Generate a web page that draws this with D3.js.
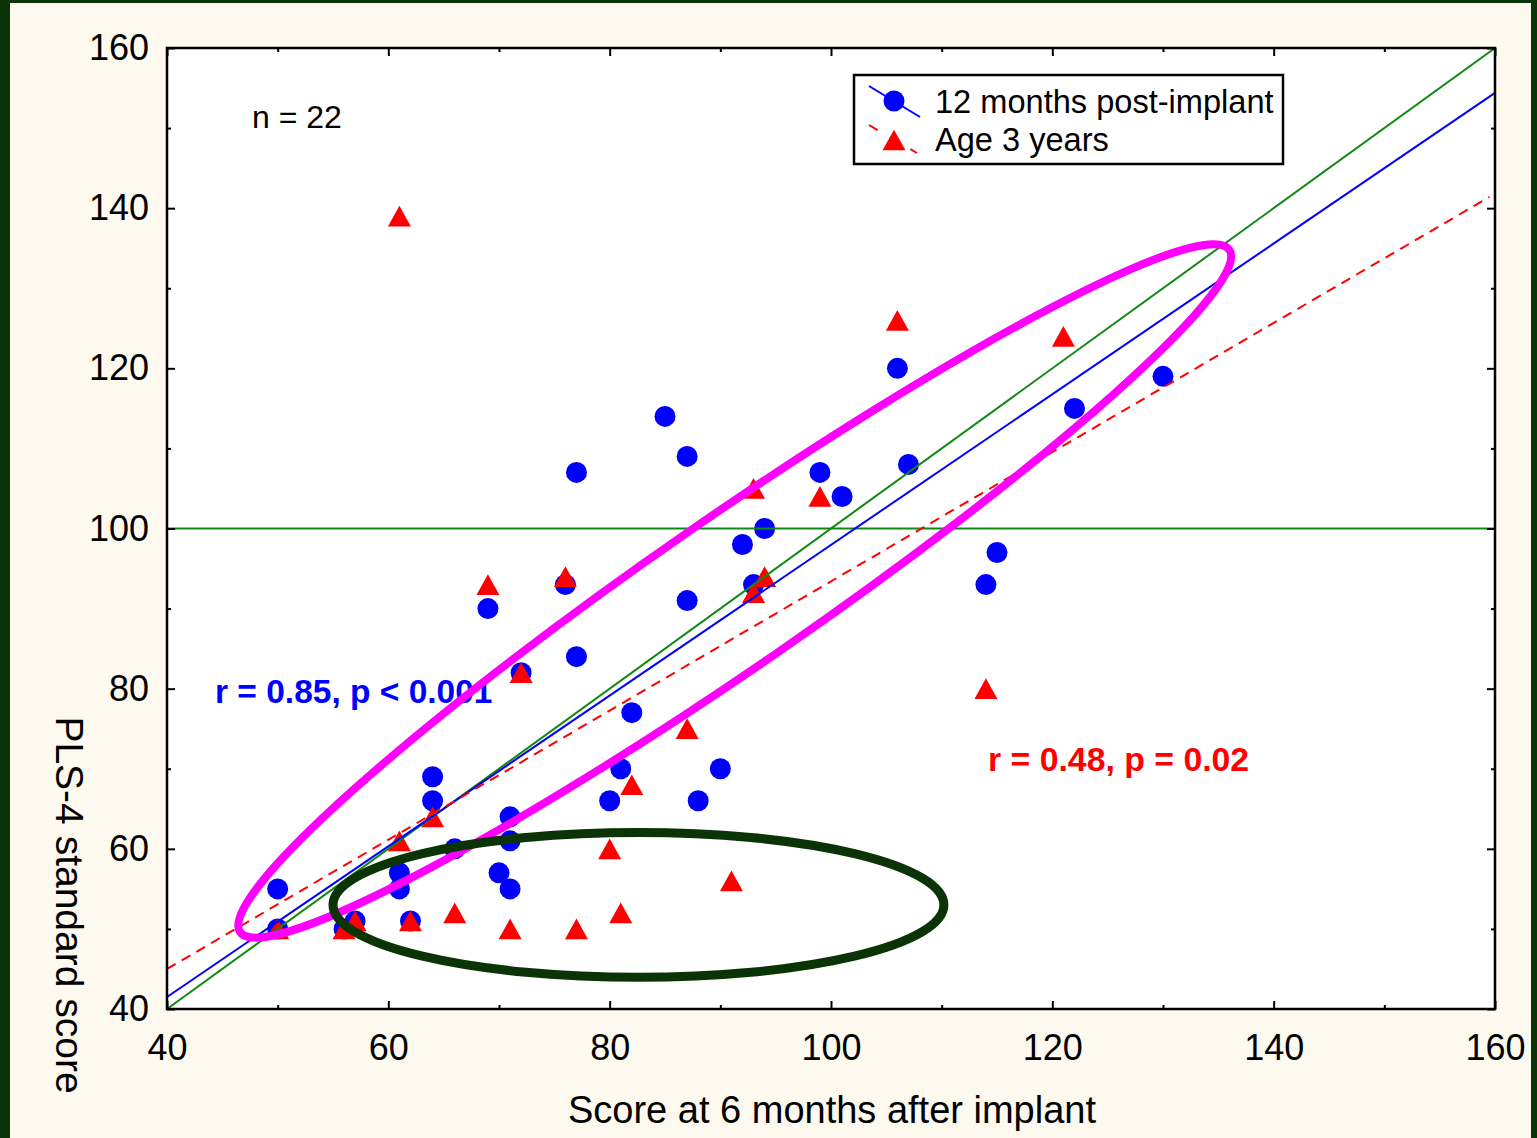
<!DOCTYPE html>
<html>
<head>
<meta charset="utf-8">
<script src="https://cdn.jsdelivr.net/npm/d3@7"></script>
<style>
  body { margin: 0; background: #0c3409; }
  svg { display: block; }
  text { font-family: "Liberation Sans", Arial, sans-serif; }
</style>
</head>
<body>
<svg id="chart" width="1537" height="1138"></svg>
<script>
// scores at 6 months (x) vs PLS-4 at 12 months post-implant (y)
const postImplantX = [50, 50, 56, 57, 61, 61, 62, 64, 64, 66, 69, 70, 71, 71, 71, 72, 76, 77, 77, 80,
  81, 82, 85, 87, 87, 88, 90, 92, 93, 94, 99, 101, 106, 107, 114, 115, 122, 130];
const postImplantY = [55, 50, 50, 51, 57, 55, 51, 69, 66, 60, 90, 57, 64, 61, 55, 82, 93, 107, 84, 66,
  70, 77, 114, 109, 91, 66, 70, 98, 93, 100, 107, 104, 120, 108, 93, 97, 115, 119];

// scores at 6 months (x) vs PLS-4 at age 3 years (y)
const age3X = [50, 56, 57, 61, 61, 62, 64, 66, 69, 71, 72, 76, 77, 80, 81, 82, 87, 91, 93, 93,
  94, 99, 106, 114, 121];
const age3Y = [50, 50, 51, 139, 61, 51, 64, 52, 93, 50, 82, 94, 50, 60, 52, 68, 75, 56, 105, 92,
  94, 104, 126, 80, 124];

// fitted lines: [x, y] end points
const postImplantFit = [[40, 41.5], [160, 154.4]];
const age3Fit = [[40, 45.0], [159.5, 141.4]];
const identityLine = [[40, 40], [160, 160]];
const normLine = [[40, 100], [160, 100]];

const xTicks = [40, 60, 80, 100, 120, 140, 160];
const yTicks = [40, 60, 80, 100, 120, 140, 160];
const minorTicks = [50, 70, 90, 110, 130, 150];

const seriesNames = ['12 months post-implant', 'Age 3 years'];

const svg = d3.select('#chart');
const width = 1537;
const height = 1138;
const margin = { top: 48, left: 167, right: 42, bottom: 129 };

// page: cream panel inside a dark green frame
svg.append('rect').attr('x', 10).attr('y', 3).attr('width', 1521).attr('height', height - 3)
  .attr('fill', '#fdf9ee');

const x = d3.scaleLinear().domain([40, 160]).range([margin.left, width - margin.right]);
const y = d3.scaleLinear().domain([40, 160]).range([height - margin.bottom, margin.top]);

svg.append('rect')
  .attr('x', x(40)).attr('y', y(160))
  .attr('width', x(160) - x(40)).attr('height', y(40) - y(160))
  .attr('fill', '#ffffff');

const line = d3.line().x(d => x(d[0])).y(d => y(d[1]));

// points first, lines drawn on top
const triangle = {
  draw(context, size) {
    const w = Math.sqrt(size);
    const h = w * 0.9;
    context.moveTo(0, -h / 2);
    context.lineTo(w / 2, h / 2);
    context.lineTo(-w / 2, h / 2);
    context.closePath();
  }
};

svg.append('g').selectAll('circle')
  .data(postImplantX.map((v, i) => [v, postImplantY[i]]))
  .enter()
  .append('circle')
  .attr('cx', d => x(d[0]))
  .attr('cy', d => y(d[1]))
  .attr('r', 10.5)
  .attr('fill', '#0000ff');

svg.append('g').selectAll('path')
  .data(age3X.map((v, i) => [v, age3Y[i]]))
  .enter()
  .append('path')
  .attr('transform', d => `translate(${x(d[0])}, ${y(d[1])})`)
  .attr('d', d3.symbol(triangle, 23 * 23))
  .attr('fill', '#ff0000');

svg.append('path').datum(normLine).attr('d', line)
  .attr('fill', 'none').attr('stroke', '#118811').attr('stroke-width', 2);
svg.append('path').datum(identityLine).attr('d', line)
  .attr('fill', 'none').attr('stroke', '#118811').attr('stroke-width', 2);
svg.append('path').datum(postImplantFit).attr('d', line)
  .attr('fill', 'none').attr('stroke', '#0000ff').attr('stroke-width', 2);
svg.append('path').datum(age3Fit).attr('d', line)
  .attr('fill', 'none').attr('stroke', '#ff0000').attr('stroke-width', 2)
  .attr('stroke-dasharray', '10,7');

// axes, ticks pointing inward
const axisFont = '36px';
const bottomAxis = svg.append('g')
  .attr('transform', `translate(0, ${y(40)})`)
  .call(d3.axisBottom(x).tickValues(xTicks).tickSize(-8).tickPadding(25));
svg.append('g')
  .attr('transform', `translate(0, ${y(40)})`)
  .call(d3.axisBottom(x).tickValues(minorTicks).tickSize(-4).tickFormat(''));
const leftAxis = svg.append('g')
  .attr('transform', `translate(${x(40)}, 0)`)
  .call(d3.axisLeft(y).tickValues(yTicks).tickSize(-8).tickPadding(18));
svg.append('g')
  .attr('transform', `translate(${x(40)}, 0)`)
  .call(d3.axisLeft(y).tickValues(minorTicks).tickSize(-4).tickFormat(''));
svg.append('g')
  .attr('transform', `translate(0, ${y(160)})`)
  .call(d3.axisTop(x).tickValues(xTicks).tickSize(-8).tickFormat(''));
svg.append('g')
  .attr('transform', `translate(0, ${y(160)})`)
  .call(d3.axisTop(x).tickValues(minorTicks).tickSize(-4).tickFormat(''));
svg.append('g')
  .attr('transform', `translate(${x(160)}, 0)`)
  .call(d3.axisRight(y).tickValues(yTicks).tickSize(-8).tickFormat(''));
svg.append('g')
  .attr('transform', `translate(${x(160)}, 0)`)
  .call(d3.axisRight(y).tickValues(minorTicks).tickSize(-4).tickFormat(''));

svg.selectAll('.domain').remove();
svg.selectAll('.tick line').attr('stroke', '#000').attr('stroke-width', 2);
bottomAxis.selectAll('text').style('font-size', axisFont).attr('fill', '#000')
  .style('font-family', '"Liberation Sans", Arial, sans-serif');
leftAxis.selectAll('text').style('font-size', axisFont).attr('fill', '#000')
  .style('font-family', '"Liberation Sans", Arial, sans-serif');

svg.append('rect')
  .attr('x', x(40)).attr('y', y(160))
  .attr('width', x(160) - x(40)).attr('height', y(40) - y(160))
  .attr('fill', 'none').attr('stroke', '#000').attr('stroke-width', 2.5);

// axis titles
svg.append('text')
  .attr('x', 832).attr('y', 1123)
  .attr('text-anchor', 'middle')
  .style('font-size', '38px')
  .text('Score at 6 months after implant');

svg.append('text')
  .attr('transform', 'translate(56, 905) rotate(90)')
  .attr('text-anchor', 'middle')
  .style('font-size', '39px')
  .text('PLS-4 standard score');

// annotations
svg.append('text').attr('x', 252).attr('y', 128)
  .style('font-size', '32px').text('n = 22');

svg.append('text').attr('x', 215).attr('y', 703)
  .style('font-size', '33.5px').style('font-weight', 'bold').attr('fill', '#0000ff')
  .text('r = 0.85, p < 0.001');

svg.append('text').attr('x', 988).attr('y', 771)
  .style('font-size', '33.8px').style('font-weight', 'bold').attr('fill', '#ff0000')
  .text('r = 0.48, p = 0.02');

// legend
const legend = svg.append('g').attr('transform', 'translate(854, 75)');
legend.append('rect').attr('width', 429).attr('height', 89)
  .attr('fill', '#fff').attr('stroke', '#000').attr('stroke-width', 2.5);

legend.append('line').attr('x1', 15).attr('y1', 11).attr('x2', 66).attr('y2', 42)
  .attr('stroke', '#0000ff').attr('stroke-width', 2);
legend.append('circle').attr('cx', 40).attr('cy', 26).attr('r', 10.5).attr('fill', '#0000ff');
legend.append('line').attr('x1', 15).attr('y1', 50).attr('x2', 63).attr('y2', 78)
  .attr('stroke', '#ff0000').attr('stroke-width', 2).attr('stroke-dasharray', '10,14');
legend.append('path').attr('transform', 'translate(40, 65)')
  .attr('d', d3.symbol(triangle, 23 * 23)).attr('fill', '#ff0000');

legend.selectAll('text.legend-label')
  .data(seriesNames)
  .enter()
  .append('text')
  .attr('class', 'legend-label')
  .attr('x', 81)
  .attr('y', (d, i) => 38 + i * 38)
  .style('font-size', '32.6px')
  .text(d => d);

// magenta ellipse round the upper group, defined by its two tips (data units)
const tipA = [46.6, 49.6];
const tipB = [136.0, 134.8];
const ax = x(tipA[0]), ay = y(tipA[1]), bx = x(tipB[0]), by = y(tipB[1]);
const angle = Math.atan2(by - ay, bx - ax) * 180 / Math.PI;
svg.append('ellipse')
  .attr('transform', `translate(${(ax + bx) / 2}, ${(ay + by) / 2}) rotate(${angle})`)
  .attr('rx', Math.hypot(bx - ax, by - ay) / 2)
  .attr('ry', 75)
  .attr('fill', 'none')
  .attr('stroke', '#ff00ff')
  .attr('stroke-width', 8);

// dark green ellipse round the low group
const lowCentre = [82.6, 53.0];
svg.append('ellipse')
  .attr('cx', x(lowCentre[0]))
  .attr('cy', y(lowCentre[1]))
  .attr('rx', x(lowCentre[0] + 27.6) - x(lowCentre[0]))
  .attr('ry', y(lowCentre[1]) - y(lowCentre[1] + 9.05))
  .attr('fill', 'none')
  .attr('stroke', '#0a3306')
  .attr('stroke-width', 9);
</script>
</body>
</html>
